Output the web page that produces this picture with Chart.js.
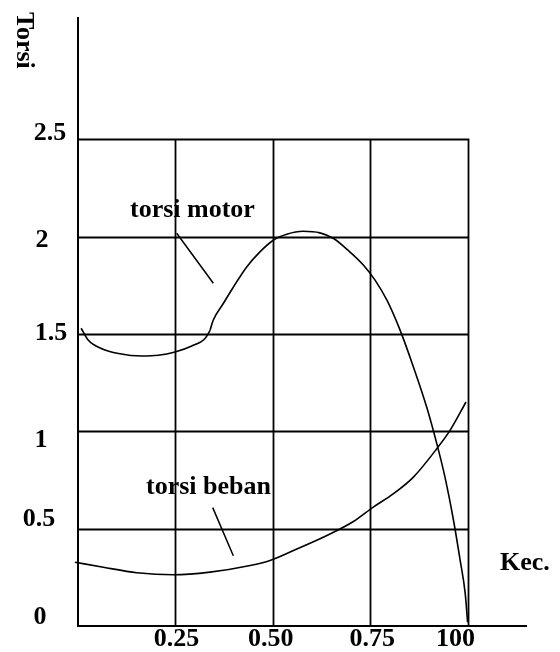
<!DOCTYPE html>
<html>
<head>
<meta charset="utf-8">
<script src="https://cdn.jsdelivr.net/npm/chart.js@4.4.1/dist/chart.umd.min.js"></script>
<style>
html, body { margin: 0; padding: 0; background: #fff; }
canvas { display: block; }
</style>
</head>
<body>
<canvas id="c" width="560" height="652"></canvas>
<script>
// ---- tick values and labels ----
const xTickValues = [0.25, 0.5, 0.75, 1.0];
const xTickLabels = ['0.25', '0.50', '0.75', '100'];
const yTickValues = [0, 0.5, 1, 1.5, 2, 2.5];
const yTickLabels = ['0', '0.5', '1', '1.5', '2', '2.5'];

// ---- torsi motor: part before the kink ----
const motorLowX = [0.008, 0.026, 0.061, 0.104, 0.164, 0.206, 0.249, 0.292, 0.326, 0.339];
const motorLowY = [1.53, 1.47, 1.425, 1.40, 1.387, 1.391, 1.408, 1.439, 1.477, 1.519];

// ---- torsi motor: part after the kink ----
const motorHighX = [0.339, 0.347, 0.373, 0.399, 0.433, 0.467, 0.501, 0.536, 0.578, 0.621, 0.656, 0.693, 0.733, 0.763, 0.793, 0.827, 0.861, 0.895, 0.921, 0.942, 0.964, 0.981, 0.994, 1.0];
const motorHighY = [1.519, 1.571, 1.657, 1.742, 1.845, 1.922, 1.982, 2.013, 2.028, 2.02, 1.991, 1.931, 1.854, 1.776, 1.674, 1.519, 1.331, 1.125, 0.937, 0.765, 0.542, 0.337, 0.166, 0.02];

// ---- torsi beban ----
const loadX = [-0.008, 0.065, 0.151, 0.245, 0.339, 0.442, 0.493, 0.553, 0.639, 0.707, 0.758, 0.81, 0.861, 0.921, 0.955, 0.996];
const loadY = [0.328, 0.302, 0.274, 0.263, 0.277, 0.311, 0.337, 0.388, 0.465, 0.537, 0.611, 0.68, 0.765, 0.911, 1.005, 1.151];

// ---- texts ----
const yTitle = 'Torsi';
const xTitle = 'Kec.';
const annotationTexts = ['torsi motor', 'torsi beban'];
// annotation anchor (text left/baseline) and leader line ends, in data units
const annotationTextX = [0.1335, 0.1746];
const annotationTextY = [2.103, 0.678];
const leaderFromX = [0.2534, 0.3458];
const leaderFromY = [2.018, 0.608];
const leaderToX = [0.3474, 0.3987];
const leaderToY = [1.761, 0.361];

const FONT = 'bold 26px "Liberation Serif", "Times New Roman", serif';

const toPts = (xs, ys) => xs.map((v, i) => ({ x: v, y: ys[i] }));
const lineStyle = {
  borderColor: '#000', borderWidth: 1.6, pointRadius: 0, pointHoverRadius: 0,
  cubicInterpolationMode: 'monotone', fill: false, clip: false
};

const sketchPlugin = {
  id: 'sketch',
  beforeDatasetsDraw(chart) {
    const { ctx, scales: { x, y } } = chart;
    const x0 = x.getPixelForValue(0), x1 = x.getPixelForValue(1);
    const y0 = y.getPixelForValue(0), yTop = y.getPixelForValue(2.5);
    ctx.save();
    ctx.strokeStyle = '#000';
    ctx.lineWidth = 1.8;
    ctx.beginPath();
    yTickValues.forEach(v => {
      if (v === 0) return;
      const py = Math.round(y.getPixelForValue(v)) + 0.5;
      ctx.moveTo(x0 - 1, py); ctx.lineTo(x1 + 1, py);
    });
    xTickValues.forEach(v => {
      const px = Math.round(x.getPixelForValue(v)) + 0.5;
      ctx.moveTo(px, yTop - 1); ctx.lineTo(px, y0);
    });
    ctx.stroke();
    ctx.restore();
  },
  afterDraw(chart) {
    const { ctx, scales: { x, y } } = chart;
    const o = chart.options.plugins.sketch;
    ctx.save();
    ctx.fillStyle = '#000';
    ctx.font = FONT;
    ctx.textBaseline = 'alphabetic';
    // y tick labels
    ctx.textAlign = 'center';
    yTickLabels.forEach((t, i) => {
      ctx.fillText(t, o.yLabelCenterX[i], y.getPixelForValue(yTickValues[i]) + o.yLabelShift[i]);
    });
    // x tick labels
    const y0 = y.getPixelForValue(0);
    xTickLabels.forEach((t, i) => {
      ctx.fillText(t, x.getPixelForValue(xTickValues[i]) + o.xLabelShift[i], y0 + o.xLabelDrop);
    });
    // axis titles
    ctx.textAlign = 'left';
    ctx.fillText(xTitle, x.right - 26, y0 - 56);
    ctx.save();
    ctx.translate(17, 12);
    ctx.rotate(Math.PI / 2);
    ctx.fillText(yTitle, 0, 0);
    ctx.restore();
    // annotations
    annotationTexts.forEach((t, i) => {
      ctx.fillText(t, x.getPixelForValue(annotationTextX[i]), y.getPixelForValue(annotationTextY[i]));
    });
    ctx.strokeStyle = '#000';
    ctx.lineWidth = 1.5;
    ctx.beginPath();
    leaderFromX.forEach((v, i) => {
      ctx.moveTo(x.getPixelForValue(v), y.getPixelForValue(leaderFromY[i]));
      ctx.lineTo(x.getPixelForValue(leaderToX[i]), y.getPixelForValue(leaderToY[i]));
    });
    ctx.stroke();
    ctx.restore();
  }
};

new Chart(document.getElementById('c'), {
  type: 'line',
  data: {
    datasets: [
      Object.assign({ label: 'torsi motor', data: toPts(motorLowX, motorLowY) }, lineStyle),
      Object.assign({ label: 'torsi motor', data: toPts(motorHighX, motorHighY) }, lineStyle),
      Object.assign({ label: 'torsi beban', data: toPts(loadX, loadY) }, lineStyle)
    ]
  },
  options: {
    responsive: false,
    animation: false,
    events: [],
    layout: { padding: { left: 78, top: 18, right: 34, bottom: 26 } },
    scales: {
      x: {
        type: 'linear', min: 0, max: 1.15,
        ticks: { display: false },
        grid: { display: false, drawTicks: false, tickLength: 0 },
        border: { display: true, color: '#000', width: 2 }
      },
      y: {
        type: 'linear', min: 0, max: 3.124,
        ticks: { display: false },
        grid: { display: false, drawTicks: false, tickLength: 0 },
        border: { display: true, color: '#000', width: 2 }
      }
    },
    plugins: {
      legend: { display: false },
      tooltip: { enabled: false },
      sketch: {
        yLabelCenterX: [40, 39, 41, 51, 42, 50],
        yLabelShift: [-2, -3, 16, 6, 10, 1],
        xLabelShift: [1, -2, 2, -12],
        xLabelDrop: 20
      }
    }
  },
  plugins: [sketchPlugin]
});
</script>
</body>
</html>
